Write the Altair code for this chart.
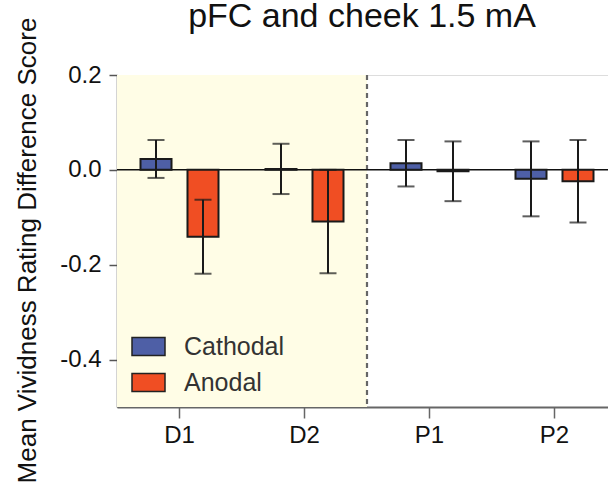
import altair as alt
import pandas as pd

# Session labels and the two stimulation conditions
categories = ["D1", "D2", "P1", "P2"]
series = ["Cathodal", "Anodal"]

# Mean difference scores and error-bar half widths per session
cathodal_mean = [0.023, 0.002, 0.014, -0.019]
cathodal_err = [0.040, 0.053, 0.049, 0.079]
anodal_mean = [-0.141, -0.109, -0.003, -0.024]
anodal_err = [0.078, 0.109, 0.063, 0.087]

# Sessions that fall in the shaded stimulation block
shaded = ["D1", "D2"]
boundary = ["P1"]

chart_title = ["pFC and cheek 1.5 mA"]

colors = ["#4E5FA6", "#F04E23"]
FONT = "Liberation Sans"
W, H = 491, 332

rows = []
for name, means, errs in [("Cathodal", cathodal_mean, cathodal_err),
                          ("Anodal", anodal_mean, anodal_err)]:
    for cat, m, e in zip(categories, means, errs):
        rows.append({"session": cat, "condition": name, "mean": m,
                     "lo": m - e, "hi": m + e})
df = pd.DataFrame(rows)

x_scale = alt.Scale(domain=categories, range=[0, 500], paddingInner=0, paddingOuter=0)
y_scale = alt.Scale(domain=[-0.5, 0.2], nice=False, zero=False)
off_scale = alt.Scale(domain=series, paddingInner=0.34, paddingOuter=0.5)

x_enc = alt.X("session:N", scale=x_scale, sort=categories,
              axis=alt.Axis(title=None, labelAngle=0, tickSize=11, tickWidth=1.5,
                            tickColor="#666", domainColor="#666", domainWidth=2,
                            labelFontSize=24, labelPadding=5, labelColor="#111",
                            labelFont=FONT))

background = alt.Chart(pd.DataFrame({"session": shaded})).mark_bar(
    color="#FFFDE6", opacity=1
).encode(
    x=x_enc,
    y=alt.value(0),
    y2=alt.value(H),
)

divider = alt.Chart(pd.DataFrame({"session": boundary})).mark_rule(
    color="#666", strokeWidth=2.2, strokeDash=[5, 4]
).encode(
    x=alt.X("session:N", scale=x_scale, bandPosition=0),
)

zero_line = alt.Chart(pd.DataFrame({"v": [0]})).mark_rule(
    color="#111", strokeWidth=1.5
).encode(
    y=alt.Y("v:Q", scale=y_scale),
)

bars = alt.Chart(df).mark_bar(stroke="#1a1a1a", strokeWidth=2).encode(
    x=alt.X("session:N", scale=x_scale, sort=categories),
    xOffset=alt.XOffset("condition:N", scale=off_scale, sort=series),
    y=alt.Y("mean:Q", scale=y_scale,
            axis=alt.Axis(title="Mean Vividness Rating Difference Score",
                          values=[-0.4, -0.2, 0.0, 0.2],
                          labelExpr="datum.value < 0 ? '-' + format(-datum.value, '.1f') : format(datum.value, '.1f')",
                          grid=False, tickSize=8, tickWidth=1.5, tickColor="#555",
                          domainColor="#555", domainWidth=1.5,
                          labelFontSize=24, labelPadding=8, labelColor="#111",
                          labelFont=FONT, titleFont=FONT, titleFontSize=26,
                          titleFontWeight="normal", titleColor="#111",
                          titleX=-77, titleY=175, titleAngle=270,
                          titleBaseline="bottom", titleAlign="center")),
    y2=alt.datum(0),
    color=alt.Color("condition:N", scale=alt.Scale(domain=series, range=colors),
                    sort=series,
                    legend=alt.Legend(title=None, orient="none", legendX=14, legendY=254,
                                      symbolType="M-1,-0.55H1V0.55H-1Z",
                                      symbolSize=1089, symbolStrokeColor="#222",
                                      symbolStrokeWidth=1.5, symbolOpacity=1,
                                      labelFontSize=25, labelFont=FONT,
                                      labelColor="#333", labelOffset=18,
                                      rowPadding=5, padding=0)),
)

whiskers = alt.Chart(df).mark_rule(color="#1a1a1a", strokeWidth=2).encode(
    x=alt.X("session:N", scale=x_scale, sort=categories),
    xOffset=alt.XOffset("condition:N", scale=off_scale, sort=series),
    y=alt.Y("lo:Q", scale=y_scale),
    y2="hi:Q",
)

caps_lo = alt.Chart(df).mark_tick(color="#1a1a1a", thickness=2, size=17).encode(
    x=alt.X("session:N", scale=x_scale, sort=categories),
    xOffset=alt.XOffset("condition:N", scale=off_scale, sort=series),
    y=alt.Y("lo:Q", scale=y_scale),
)
caps_hi = alt.Chart(df).mark_tick(color="#1a1a1a", thickness=2, size=17).encode(
    x=alt.X("session:N", scale=x_scale, sort=categories),
    xOffset=alt.XOffset("condition:N", scale=off_scale, sort=series),
    y=alt.Y("hi:Q", scale=y_scale),
)

# Chart heading drawn as a text mark above the plot area
heading = alt.Chart(pd.DataFrame({"t": chart_title})).mark_text(
    font=FONT, fontSize=34, color="#111", align="center", baseline="alphabetic"
).encode(
    text="t:N",
    x=alt.value(245),
    y=alt.value(-48),
)

chart = alt.layer(
    background, divider, zero_line, bars, whiskers, caps_lo, caps_hi, heading
).properties(
    width=W,
    height=H,
    autosize=alt.AutoSizeParams(type="none"),
    padding={"left": 117, "top": 75, "right": 0, "bottom": 93},
).configure_view(
    stroke=None
).configure(
    background="white"
)

chart.save("out.html", embed_options={"renderer": "svg", "actions": False})
